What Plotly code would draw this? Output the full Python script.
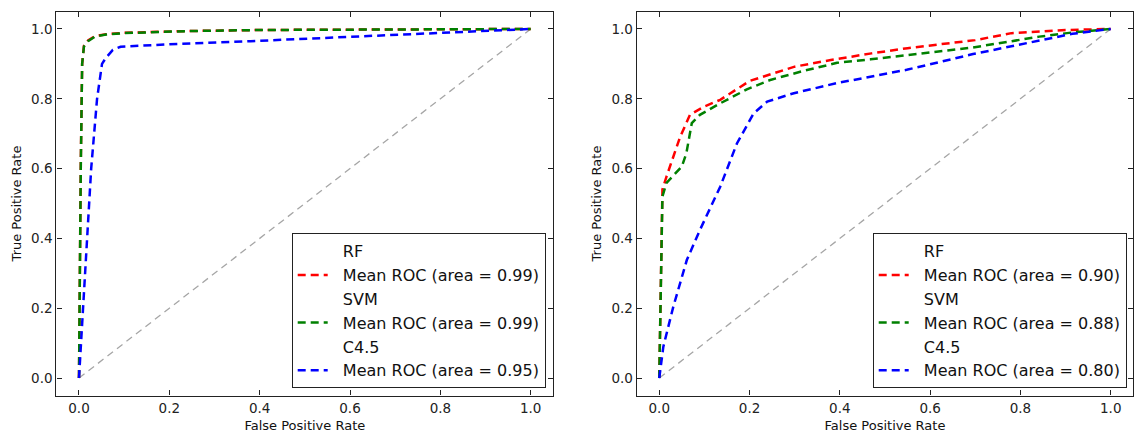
import plotly.graph_objects as go

# ---- Mean ROC curves, dataset A (left panel) ----
rf_a_fpr = [0, 0.001, 0.004, 0.007, 0.011, 0.02, 0.035, 0.06, 0.1, 0.24, 0.4, 1.0]
rf_a_tpr = [0, 0.22, 0.62, 0.9, 0.952, 0.967, 0.979, 0.985, 0.989, 0.994, 0.997, 1.0]
svm_a_fpr = [0, 0.001, 0.004, 0.007, 0.011, 0.02, 0.035, 0.06, 0.1, 0.24, 0.4, 1.0]
svm_a_tpr = [0, 0.2, 0.6, 0.9, 0.95, 0.965, 0.978, 0.984, 0.988, 0.994, 0.997, 1.0]
c45_a_fpr = [0, 0.009, 0.017, 0.027, 0.04, 0.051, 0.06, 0.075, 0.092, 0.2, 0.38, 0.6, 0.82, 1.0]
c45_a_tpr = [0, 0.2, 0.4, 0.6, 0.8, 0.9, 0.918, 0.94, 0.949, 0.956, 0.965, 0.978, 0.991, 1.0]

# ---- Mean ROC curves, dataset B (right panel) ----
rf_b_fpr = [0, 0.007, 0.016, 0.046, 0.068, 0.1, 0.135, 0.2, 0.3, 0.38, 0.47, 0.55, 0.7, 0.78, 0.9, 1.0]
rf_b_tpr = [0, 0.54, 0.577, 0.69, 0.754, 0.778, 0.797, 0.851, 0.892, 0.911, 0.93, 0.945, 0.968, 0.988, 0.997, 1.0]
svm_b_fpr = [0, 0.007, 0.016, 0.05, 0.06, 0.072, 0.09, 0.135, 0.194, 0.246, 0.32, 0.394, 0.468, 0.548, 0.695, 0.842, 0.915, 1.0]
svm_b_tpr = [0, 0.52, 0.559, 0.606, 0.644, 0.73, 0.754, 0.787, 0.827, 0.854, 0.88, 0.903, 0.913, 0.925, 0.947, 0.978, 0.99, 1.0]
c45_b_fpr = [0, 0.009, 0.031, 0.061, 0.09, 0.135, 0.172, 0.209, 0.239, 0.298, 0.394, 0.468, 0.548, 0.695, 0.842, 0.915, 1.0]
c45_b_tpr = [0, 0.09, 0.204, 0.338, 0.424, 0.548, 0.672, 0.758, 0.792, 0.816, 0.845, 0.863, 0.883, 0.928, 0.968, 0.986, 1.0]

auc_a = {"RF": 0.99, "SVM": 0.99, "C4.5": 0.95}
auc_b = {"RF": 0.90, "SVM": 0.88, "C4.5": 0.80}

chance = [0, 1]
ticks = [0.0, 0.2, 0.4, 0.6, 0.8, 1.0]
tick_text = ["%.1f" % t for t in ticks]

FONT = "DejaVu Sans"
W, H = 1138, 437
colors = {"RF": "#ff0000", "SVM": "#008000", "C4.5": "#0000ff"}
PAD = "\u00a0\u00a0"  # keeps legend labels clear of the line samples

fig = go.Figure()

panels = [
    ("x", "y", "legend", auc_a,
     {"RF": (rf_a_fpr, rf_a_tpr), "SVM": (svm_a_fpr, svm_a_tpr), "C4.5": (c45_a_fpr, c45_a_tpr)}),
    ("x2", "y2", "legend2", auc_b,
     {"RF": (rf_b_fpr, rf_b_tpr), "SVM": (svm_b_fpr, svm_b_tpr), "C4.5": (c45_b_fpr, c45_b_tpr)}),
]

for xa, ya, leg, auc, curves in panels:
    # chance diagonal
    fig.add_trace(go.Scatter(
        x=chance, y=chance, mode="lines", xaxis=xa, yaxis=ya, showlegend=False,
        line=dict(color="#a6a6a6", width=1.3, dash="7px,5px"), hoverinfo="skip"))
    for clf in ["RF", "SVM", "C4.5"]:
        fpr, tpr = curves[clf]
        # classifier name shown as a legend header with a blank line sample
        fig.add_trace(go.Scatter(
            x=[None], y=[None], mode="lines", xaxis=xa, yaxis=ya, legend=leg,
            name=PAD + clf, line=dict(color="white", width=2)))
        fig.add_trace(go.Scatter(
            x=fpr, y=tpr, mode="lines", xaxis=xa, yaxis=ya, legend=leg,
            name=PAD + "Mean ROC (area = %.2f)" % auc[clf],
            line=dict(color=colors[clf], width=2.5, dash="8px,5px")))

px_left = (56.4, 553.3)
px_right = (636.7, 1133.3)
px_y = (11.5, 395.5)

def xdom(a, b):
    return [a / W, b / W]

ydom = [(H - px_y[1]) / H, (H - px_y[0]) / H]

axis_common = dict(
    range=[-0.05, 1.05], tickvals=ticks, ticktext=tick_text,
    ticks="inside", ticklen=5, tickwidth=1, tickcolor="#222",
    showline=True, linecolor="#222", linewidth=1.2, mirror="ticks",
    showgrid=False, zeroline=False,
    tickfont=dict(family=FONT, size=13.5, color="#222"),
)

fig.update_layout(
    width=W, height=H,
    margin=dict(l=0, r=0, t=0, b=0),
    paper_bgcolor="white", plot_bgcolor="white",
    font=dict(family=FONT, color="#111"),
    xaxis=dict(axis_common, domain=xdom(*px_left), anchor="y",
               title=dict(text="False Positive Rate", font=dict(family=FONT, size=13), standoff=6)),
    yaxis=dict(axis_common, domain=ydom, anchor="x",
               title=dict(text="True Positive Rate", font=dict(family=FONT, size=13), standoff=6)),
    xaxis2=dict(axis_common, domain=xdom(*px_right), anchor="y2",
                title=dict(text="False Positive Rate", font=dict(family=FONT, size=13), standoff=6)),
    yaxis2=dict(axis_common, domain=ydom, anchor="x2",
                title=dict(text="True Positive Rate", font=dict(family=FONT, size=13), standoff=6)),
    legend=dict(x=545.7 / W, y=(H - 388.3) / H, xanchor="right", yanchor="bottom",
                bgcolor="white", bordercolor="#222", borderwidth=1,
                font=dict(family=FONT, size=16, color="#111"), tracegroupgap=0),
    legend2=dict(x=1126.7 / W, y=(H - 388.3) / H, xanchor="right", yanchor="bottom",
                 bgcolor="white", bordercolor="#222", borderwidth=1,
                 font=dict(family=FONT, size=16, color="#111"), tracegroupgap=0),
)

fig.write_html("out.html")
